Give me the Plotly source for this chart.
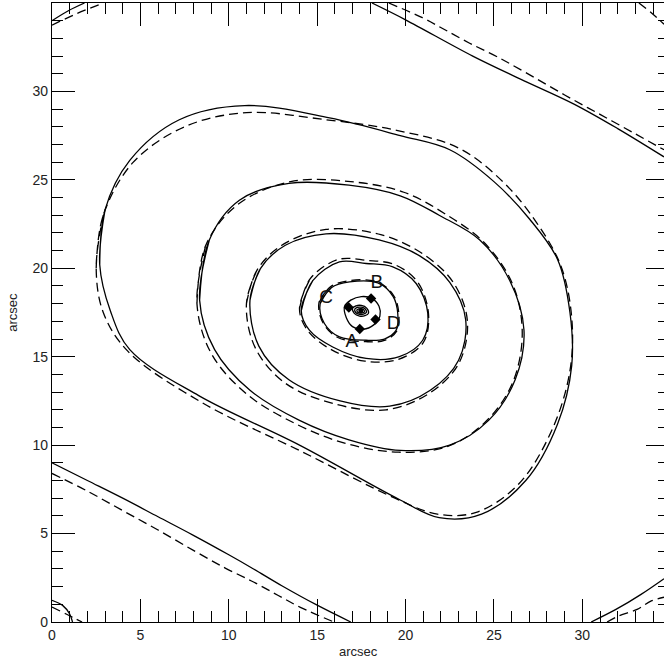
import plotly.graph_objects as go

# ---- image positions (arcsec) ----
img_x = [17.41, 18.05, 16.79, 18.30]
img_y = [16.57, 18.29, 17.78, 17.10]
img_names = ["A", "B", "C", "D"]
label_x = [16.96, 18.37, 15.51, 19.32]
label_y = [15.84, 19.14, 18.29, 16.84]

# ---- contour paths (arcsec); open paths run edge to edge ----
solid_open = [
    ([0.0, 0.6, 1.0, 1.16], [1.23, 0.94, 0.45, 0.0]),
    ([0.0, 0.9, 1.84], [34.0, 34.55, 35.0]),
    ([0.0, 2.0, 4.0, 6.0, 8.0, 10.0, 11.4, 13.0, 15.0, 16.9],
     [9.0, 8.0, 7.0, 5.95, 4.9, 3.8, 3.0, 2.05, 0.95, 0.0]),
    ([30.5, 31.9, 33.3, 34.62], [0.0, 0.71, 1.55, 2.45]),
    ([18.1, 20.0, 23.8, 26.5, 29.5, 32.0, 34.62],
     [35.0, 34.05, 32.0, 30.7, 29.3, 27.9, 26.3]),
]
dashed_open = [
    ([0.0, 0.8, 1.7], [0.85, 0.45, 0.0]),
    ([0.0, 1.4, 2.8], [33.75, 34.4, 34.95]),
    ([33.2, 33.9, 34.62], [35.0, 34.45, 33.8]),
    ([0.0, 2.0, 4.0, 6.0, 8.0, 9.8, 11.4, 12.8, 14.05, 15.95],
     [8.4, 7.4, 6.3, 5.2, 4.05, 3.05, 2.26, 1.5, 0.83, 0.0]),
    ([31.4, 32.1, 33.1, 33.9, 34.62], [0.0, 0.36, 0.71, 1.19, 1.4]),
    ([19.05, 20.95, 22.2, 23.6, 25.2, 27.0, 29.0, 31.0, 33.0, 34.62],
     [35.0, 34.17, 33.5, 32.74, 31.95, 30.95, 29.8, 28.7, 27.6, 26.7]),
]

solid_closed = [
    ([2.7, 3.0, 4.4, 7.2, 10.9, 15.7, 19.7, 22.5, 25.0, 27.0, 28.6, 29.3, 29.4,
      28.6, 26.8, 24.3, 21.9, 19.7, 14.0, 8.3, 4.4, 3.3],
     [20.2, 23.3, 26.1, 28.4, 29.2, 28.5, 27.5, 26.7, 24.9, 22.8, 20.5, 17.5, 14.5,
      11.2, 8.0, 6.1, 5.9, 6.9, 10.0, 12.8, 15.4, 17.6]),
    ([8.35, 8.9, 10.6, 13.4, 16.8, 19.7, 21.9, 24.2, 25.9, 26.7, 26.2, 24.7, 22.5,
      19.7, 16.8, 14.0, 11.2, 9.2],
     [18.2, 21.6, 23.85, 24.8, 24.7, 24.1, 23.0, 21.6, 19.3, 16.5, 13.7, 11.4, 10.0,
      9.7, 10.3, 11.4, 13.1, 15.4]),
    ([11.2, 11.8, 13.2, 15.5, 18.5, 20.8, 22.5, 23.4, 23.0, 21.4, 19.1, 16.3, 13.4, 11.7],
     [18.2, 20.0, 21.3, 21.95, 21.6, 20.7, 19.2, 17.1, 14.8, 13.1, 12.2, 12.5, 13.7, 15.6]),
    ([14.1, 14.75, 16.26, 17.77, 19.28, 20.6, 21.26, 20.97, 19.65, 17.77, 15.88, 14.56],
     [17.6, 19.3, 20.36, 20.27, 20.08, 19.14, 17.44, 15.93, 15.0, 14.9, 15.55, 16.5]),
    ([15.17, 15.8, 16.83, 18.43, 19.3, 19.56, 19.47, 18.8, 17.77, 16.26, 15.41],
     [18.0, 18.9, 19.23, 19.17, 18.4, 17.44, 16.5, 16.0, 15.93, 16.12, 16.88]),
    ([16.55, 16.9, 17.5, 18.1, 18.5, 18.55, 18.2, 17.6, 17.0, 16.65],
     [17.85, 18.2, 18.4, 18.3, 17.85, 17.3, 16.8, 16.55, 16.7, 17.2]),
    ([17.0, 17.2, 17.5, 17.8, 17.9, 17.7, 17.4, 17.1],
     [17.75, 17.88, 17.9, 17.75, 17.45, 17.32, 17.3, 17.45]),
    ([17.13, 17.28, 17.5, 17.72, 17.78, 17.62, 17.4, 17.18],
     [17.7, 17.79, 17.8, 17.7, 17.5, 17.41, 17.4, 17.5]),
    ([17.25, 17.36, 17.5, 17.64, 17.67, 17.55, 17.4, 17.28],
     [17.65, 17.71, 17.72, 17.65, 17.53, 17.48, 17.47, 17.53]),
]
dashed_closed = [
    ([2.5, 2.9, 4.6, 7.5, 11.0, 15.5, 19.5, 23.0, 25.5, 27.4, 28.8, 29.4, 29.3,
      28.3, 26.4, 24.0, 21.8, 19.4, 14.2, 8.5, 4.3, 2.9],
     [20.0, 23.0, 26.0, 28.0, 28.8, 28.4, 27.8, 26.8, 24.9, 22.6, 20.1, 17.2, 14.2,
      10.9, 7.8, 6.2, 6.1, 7.0, 9.6, 12.4, 15.3, 17.5]),
    ([8.2, 8.7, 10.5, 13.5, 16.9, 19.9, 22.2, 24.5, 26.1, 26.6, 26.0, 24.4, 22.3,
      19.6, 16.6, 13.8, 11.0, 9.0],
     [18.0, 21.3, 23.6, 24.9, 24.9, 24.3, 23.1, 21.4, 19.0, 16.2, 13.4, 11.2, 9.9,
      9.6, 10.1, 11.2, 12.9, 15.2]),
    ([11.0, 11.6, 13.0, 15.5, 18.6, 21.0, 22.7, 23.5, 23.0, 21.3, 18.9, 16.1, 13.2, 11.5],
     [18.0, 19.9, 21.3, 22.2, 21.9, 20.8, 19.2, 17.0, 14.6, 12.9, 12.0, 12.3, 13.5, 15.5]),
    ([14.0, 14.6, 16.2, 17.8, 19.4, 20.7, 21.3, 21.0, 19.6, 17.7, 15.8, 14.45],
     [17.7, 19.4, 20.5, 20.45, 20.2, 19.2, 17.4, 15.8, 14.85, 14.75, 15.4, 16.5]),
    ([15.1, 15.75, 16.8, 18.45, 19.35, 19.62, 19.5, 18.8, 17.75, 16.2, 15.35],
     [18.05, 18.95, 19.3, 19.22, 18.42, 17.42, 16.45, 15.92, 15.85, 16.07, 16.88]),
]

LINE = dict(color="black", width=1.3)
DASH = dict(color="black", width=1.3, dash="9px,5px")

fig = go.Figure()


def add_path(xs, ys, style, closed):
    if closed:
        xs = list(xs) + list(xs[:2])
        ys = list(ys) + list(ys[:2])
    fig.add_trace(go.Scatter(x=xs, y=ys, mode="lines", line=dict(style, shape="spline", smoothing=1.0),
                             hoverinfo="skip", showlegend=False))


for xs, ys in solid_open:
    add_path(xs, ys, LINE, False)
for xs, ys in dashed_open:
    add_path(xs, ys, DASH, False)
for xs, ys in solid_closed:
    add_path(xs, ys, LINE, True)
for xs, ys in dashed_closed:
    add_path(xs, ys, DASH, True)

# central peak
fig.add_trace(go.Scatter(x=[17.47], y=[17.6], mode="markers",
                         marker=dict(color="black", size=5), hoverinfo="skip", showlegend=False))

# lensed images
fig.add_trace(go.Scatter(x=img_x, y=img_y, mode="markers",
                         marker=dict(symbol="diamond", color="black", size=8),
                         hoverinfo="skip", showlegend=False))
fig.add_trace(go.Scatter(x=label_x, y=label_y, mode="text", text=img_names,
                         textfont=dict(family="Liberation Sans", size=19, color="#111"),
                         hoverinfo="skip", showlegend=False))

# right-hand tick marks (axis line itself sits just outside the page)
fig.add_trace(go.Scatter(x=[None], y=[None], yaxis="y2", showlegend=False, hoverinfo="skip"))

tickfont = dict(family="Liberation Sans", size=14, color="#222")
common = dict(showgrid=False, zeroline=False, ticks="inside", tickcolor="black",
              tickwidth=1, tickfont=tickfont)

fig.update_layout(
    width=664, height=665,
    margin=dict(l=52, r=0, t=3, b=43),
    plot_bgcolor="white", paper_bgcolor="white",
    xaxis=dict(common, range=[0, 34.62], tickmode="array", tickvals=[0, 5, 10, 15, 20, 25, 30],
               ticklen=23, showline=True, linecolor="black", linewidth=1.3, mirror="ticks",
               minor=dict(dtick=1, ticklen=11, tickcolor="black", ticks="inside")),
    yaxis=dict(common, range=[0, 35], tickmode="array", tickvals=[0, 5, 10, 15, 20, 25, 30],
               ticklen=23, showline=True, linecolor="black", linewidth=1.3, mirror=False,
               minor=dict(dtick=1, ticklen=11, tickcolor="black", ticks="inside")),
    yaxis2=dict(common, range=[0, 35], overlaying="y", side="right", anchor="x",
                tickmode="array", tickvals=[0, 5, 10, 15, 20, 25, 30], ticklen=18,
                showticklabels=False, showline=False,
                minor=dict(dtick=1, ticklen=6, tickcolor="black", ticks="inside")),
    annotations=[
        dict(text="arcsec", x=0.5, y=-0.048, xref="paper", yref="paper", showarrow=False,
             xanchor="center", yanchor="middle", font=dict(family="Liberation Sans", size=13, color="#222")),
        dict(text="arcsec", x=-0.065, y=0.5, xref="paper", yref="paper", showarrow=False, textangle=-90,
             xanchor="center", yanchor="middle", font=dict(family="Liberation Sans", size=13, color="#222")),
    ],
)

fig.write_html("out.html")
